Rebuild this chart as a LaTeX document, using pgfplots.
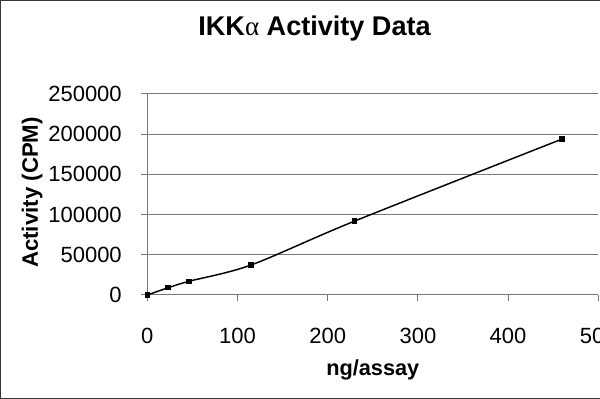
\documentclass[border=0pt]{standalone}
\usepackage{fontspec}
\setmainfont{Liberation Sans}
\newfontfamily\symfont{Liberation Serif}
\usepackage{pgfplots}
\pgfplotsset{compat=1.18}
\definecolor{gridc}{RGB}{120,120,120}
\definecolor{framec}{RGB}{55,55,55}
\begin{document}
\begin{tikzpicture}
\useasboundingbox (0,0) rectangle (450pt,299.25pt);
\begin{axis}[
  at={(110.5pt,78pt)}, anchor=south west,
  scale only axis, width=338.2pt, height=150.75pt,
  xmin=0, xmax=500, ymin=0, ymax=250000,
  xtick={0,100,200,300,400,500},
  ytick={0,50000,100000,150000,200000,250000},
  scaled y ticks=false,
  /pgf/number format/fixed,
  /pgf/number format/precision=0,
  /pgf/number format/1000 sep={},
  /pgf/number format/assume math mode=true,
  axis x line*=bottom, axis y line*=left,
  axis line style={gridc, line width=0.75pt},
  tick style={gridc, line width=0.75pt},
  tick align=outside, major tick length=4.5pt,
  ymajorgrids, grid style={gridc, line width=0.75pt},
  tick label style={font=\fontsize{16.5}{18}\selectfont, inner sep=0pt},
  xticklabel style={anchor=base, yshift=-32.1pt},
  yticklabel style={anchor=east, xshift=-14.5pt},
  xlabel={ng/assay},
  xlabel style={font=\bfseries\fontsize{16.3}{18}\selectfont, inner sep=0pt, at={(axis description cs:0.5,0)}, anchor=base, yshift=-60.75pt},
  ylabel={Activity (CPM)},
  ylabel style={font=\bfseries\fontsize{16.7}{18}\selectfont, inner sep=0pt, at={(axis description cs:0,0.5)}, anchor=center, rotate=0, yshift=86.35pt, xshift=1.5pt},
  title={IKK{\symfont\mdseries α} Activity Data},
  title style={font=\bfseries\fontsize{20.3}{24}\selectfont, inner sep=0pt, at={(axis description cs:0.5,1)}, anchor=base, yshift=37.5pt, xshift=-43.7pt},
  clip=false,
]
\addplot[black, line width=1.1pt, smooth, tension=0.5, mark=square*, mark size=1.5pt, mark options={solid, fill=black}]
coordinates {(0,0) (23,9000) (46,17000) (115,37300) (230,92000) (460,194000)};
\end{axis}
\draw[framec, line width=0.9pt] (450pt,298.8pt) -- (0.45pt,298.8pt) -- (0.45pt,0.45pt) -- (450pt,0.45pt);
\end{tikzpicture}
\end{document}
